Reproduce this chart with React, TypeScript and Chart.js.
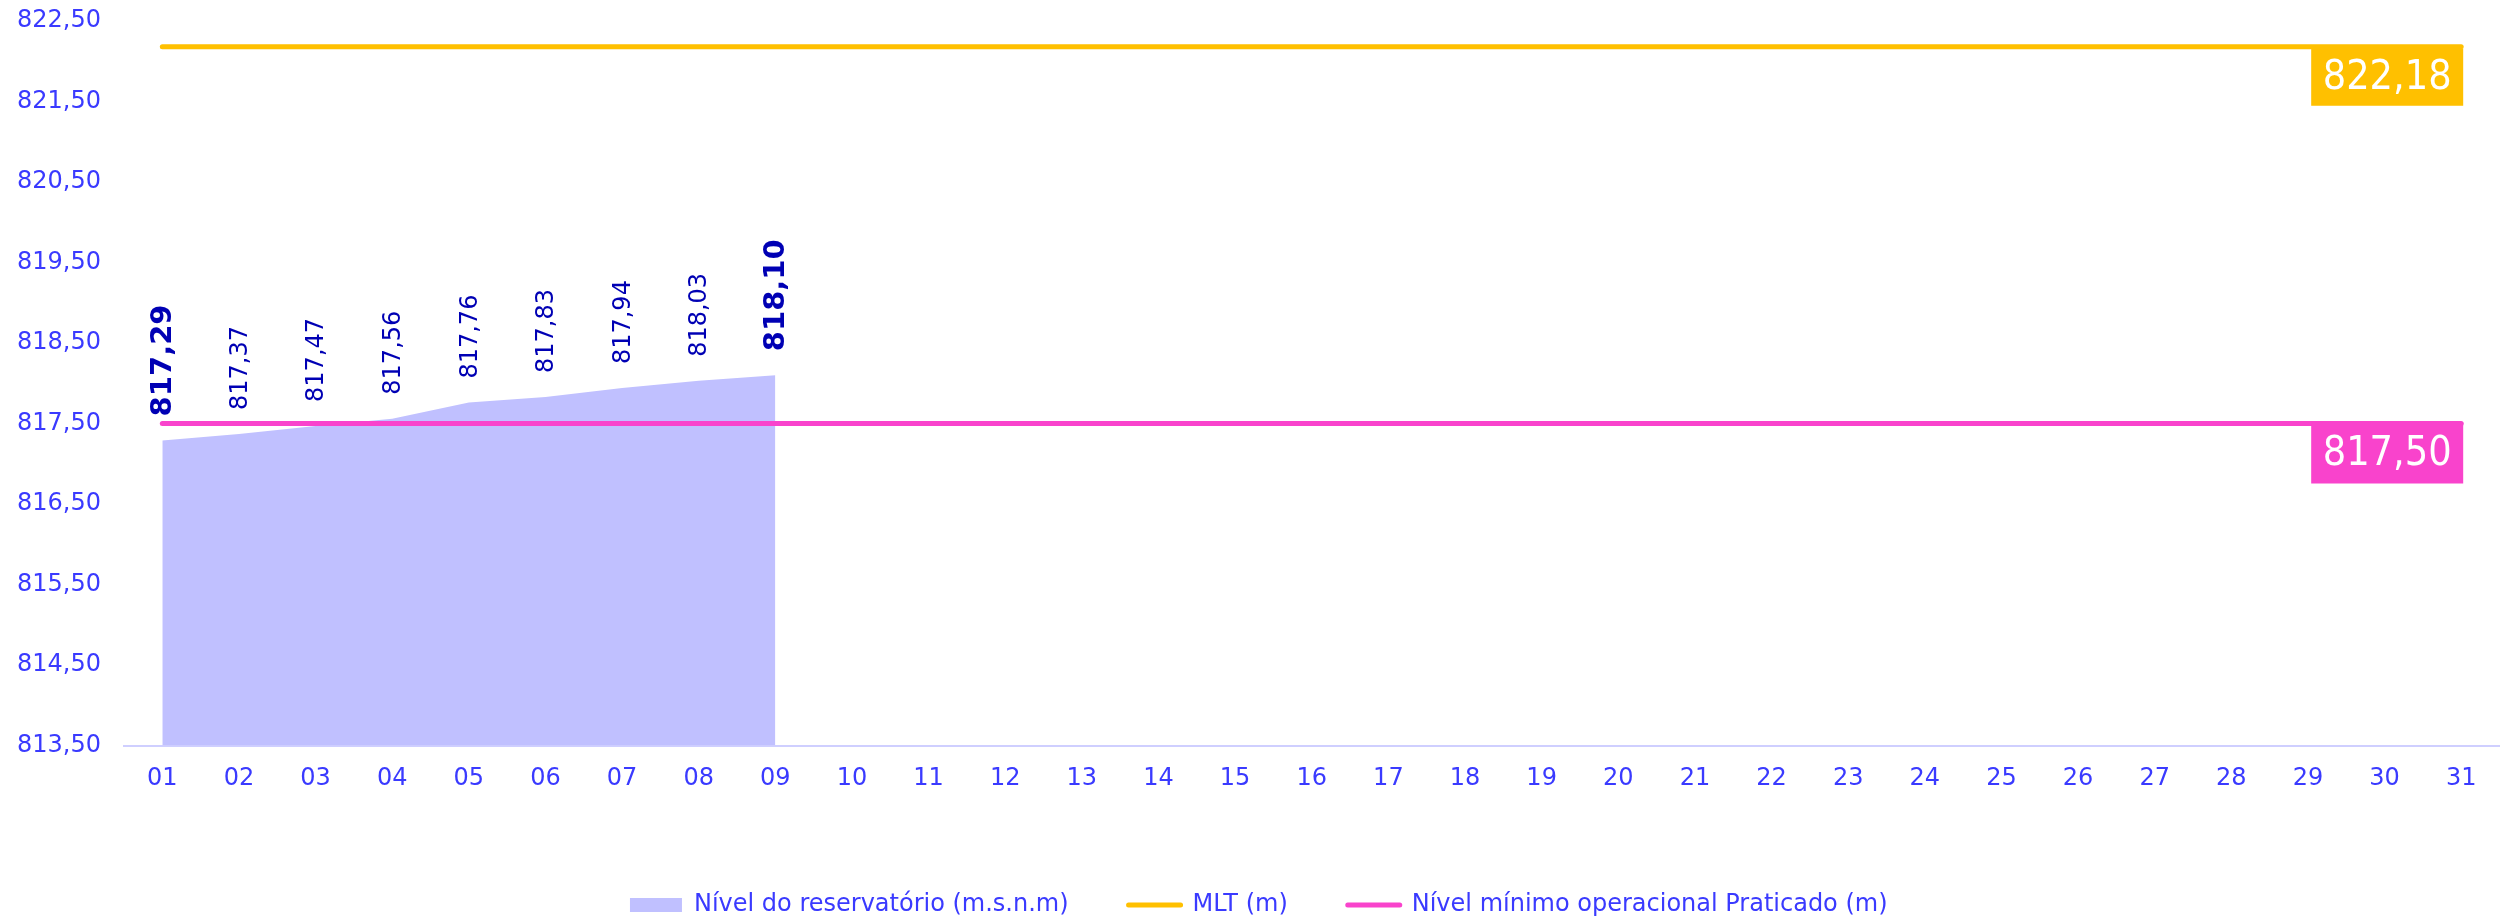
import React, { useEffect, useRef } from 'react';
import { Chart, registerables } from 'chart.js';

Chart.register(...registerables);

const days = ['01', '02', '03', '04', '05', '06', '07', '08', '09', '10', '11', '12', '13', '14', '15', '16',
  '17', '18', '19', '20', '21', '22', '23', '24', '25', '26', '27', '28', '29', '30', '31'];

const reservoirLevel = [817.29, 817.37, 817.47, 817.56, 817.76, 817.83, 817.94, 818.03, 818.10];

const mltLevel = [822.18, 822.18, 822.18, 822.18, 822.18, 822.18, 822.18, 822.18, 822.18, 822.18, 822.18,
  822.18, 822.18, 822.18, 822.18, 822.18, 822.18, 822.18, 822.18, 822.18, 822.18, 822.18, 822.18, 822.18,
  822.18, 822.18, 822.18, 822.18, 822.18, 822.18, 822.18];

const minOperationalLevel = [817.50, 817.50, 817.50, 817.50, 817.50, 817.50, 817.50, 817.50, 817.50, 817.50,
  817.50, 817.50, 817.50, 817.50, 817.50, 817.50, 817.50, 817.50, 817.50, 817.50, 817.50, 817.50, 817.50,
  817.50, 817.50, 817.50, 817.50, 817.50, 817.50, 817.50, 817.50];

const yTickValues = [813.5, 814.5, 815.5, 816.5, 817.5, 818.5, 819.5, 820.5, 821.5, 822.5];

const seriesLabels = ['Nível do reservatório (m.s.n.m)', 'MLT (m)', 'Nível mínimo operacional Praticado (m)'];

const AREA_COLOR = '#C0C0FF';
const MLT_COLOR = '#FFC000';
const MIN_COLOR = '#F943CC';
const TICK_COLOR = '#3A3AFF';
const LABEL_COLOR = '#0000B4';
const AXIS_COLOR = '#CFCFFF';
const FONT = "'DejaVu Sans', Verdana, sans-serif";

const fmt = (v: number) => v.toFixed(2).replace('.', ',');

const valueLabelsPlugin = {
  id: 'valueLabels',
  afterDatasetsDraw(chart: any) {
    const ctx = chart.ctx;
    const meta = chart.getDatasetMeta(0);
    const n = reservoirLevel.length;
    meta.data.forEach((pt: any, i: number) => {
      const v = reservoirLevel[i];
      if (v == null) return;
      const bold = i === 0 || i === n - 1;
      ctx.save();
      ctx.translate(pt.x + 1.5, pt.y - 24);
      ctx.rotate(-Math.PI / 2);
      ctx.font = bold ? `bold 29px ${FONT}` : `24px ${FONT}`;
      ctx.fillStyle = LABEL_COLOR;
      ctx.textAlign = 'left';
      ctx.textBaseline = 'middle';
      ctx.fillText(fmt(v), 0, 0);
      ctx.restore();
    });
  },
};

const endBoxesPlugin = {
  id: 'endBoxes',
  afterDatasetsDraw(chart: any) {
    const ctx = chart.ctx;
    const cfg = [
      { index: 1, dy: 2, h: 57 },
      { index: 2, dy: -1, h: 61 },
    ];
    cfg.forEach(({ index, dy, h }) => {
      const meta = chart.getDatasetMeta(index);
      const ds = chart.data.datasets[index];
      const last = meta.data[meta.data.length - 1];
      const value = ds.data[ds.data.length - 1];
      const w = 152;
      const x = last.x + 2 - w;
      const y = last.y + dy;
      ctx.save();
      ctx.fillStyle = ds.borderColor;
      ctx.fillRect(x, y, w, h);
      ctx.fillStyle = '#FFFFFF';
      (ctx as any).fontStretch = 'condensed';
      ctx.font = `41px 'DejaVu Sans Condensed', 'DejaVu Sans', sans-serif`;
      ctx.textAlign = 'center';
      ctx.textBaseline = 'middle';
      ctx.fillText(fmt(value), x + w / 2, y + h / 2 + 1);
      ctx.restore();
    });
  },
};

const legendShiftPlugin = {
  id: 'legendShift',
  afterLayout(chart: any) {
    const lg = chart.legend;
    if (lg) {
      lg.left += 9;
      lg.right += 9;
      lg.top += 3;
      lg.bottom += 3;
    }
  },
};

export default function App() {
  const canvasRef = useRef<HTMLCanvasElement | null>(null);

  useEffect(() => {
    document.body.style.margin = '0';
    document.documentElement.style.overflow = 'hidden';
    const canvas = canvasRef.current;
    if (!canvas) return;

    const chart = new Chart(canvas, {
      type: 'line',
      data: {
        labels: days,
        datasets: [
          {
            label: seriesLabels[0],
            data: reservoirLevel,
            backgroundColor: AREA_COLOR,
            borderColor: AREA_COLOR,
            borderWidth: 0,
            pointRadius: 0,
            fill: 'start',
            tension: 0,
            order: 3,
          },
          {
            label: seriesLabels[1],
            data: mltLevel,
            borderColor: MLT_COLOR,
            backgroundColor: MLT_COLOR,
            borderWidth: 5,
            borderCapStyle: 'round',
            pointRadius: 0,
            fill: false,
            order: 2,
          },
          {
            label: seriesLabels[2],
            data: minOperationalLevel,
            borderColor: MIN_COLOR,
            backgroundColor: MIN_COLOR,
            borderWidth: 5,
            borderCapStyle: 'round',
            pointRadius: 0,
            fill: false,
            order: 1,
          },
        ],
      } as any,
      options: {
        responsive: false,
        animation: false,
        devicePixelRatio: 1,
        font: { family: FONT, size: 24 },
        layout: { padding: { top: 21, right: 1.5, left: 0, bottom: -6 } },
        interaction: { mode: 'index', intersect: false },
        plugins: {
          tooltip: { enabled: false },
          title: { display: false },
          legend: {
            display: true,
            position: 'bottom',
            labels: {
              usePointStyle: true,
              pointStyleWidth: 52,
              boxHeight: 14,
              padding: 60,
              color: TICK_COLOR,
              font: { family: FONT, size: 24 },
              generateLabels: (ch: any) =>
                ch.data.datasets.map((ds: any, i: number) => ({
                  text: ds.label,
                  fillStyle: i === 0 ? AREA_COLOR : ds.borderColor,
                  strokeStyle: i === 0 ? AREA_COLOR : ds.borderColor,
                  lineWidth: i === 0 ? 0 : 5,
                  lineCap: 'round',
                  pointStyle: i === 0 ? 'rect' : 'line',
                  hidden: false,
                  datasetIndex: i,
                  fontColor: TICK_COLOR,
                })),
            },
          },
        },
        scales: {
          x: {
            type: 'category',
            offset: true,
            grid: { display: false, drawTicks: false },
            border: { display: true, color: AXIS_COLOR, width: 2 },
            ticks: {
              color: TICK_COLOR,
              font: { family: FONT, size: 24 },
              padding: 19,
              autoSkip: false,
              maxRotation: 0,
              minRotation: 0,
            },
            afterFit: (scale: any) => {
              scale.height = 84.5;
            },
          },
          y: {
            type: 'linear',
            min: 813.5,
            max: 822.5,
            grid: { display: false, drawTicks: false },
            border: { display: false },
            ticks: {
              color: TICK_COLOR,
              font: { family: FONT, size: 24 },
              padding: 23,
              callback: (v: any) => fmt(Number(v)),
            },
            afterBuildTicks: (scale: any) => {
              scale.ticks = yTickValues.map((v) => ({ value: v }));
            },
            afterFit: (scale: any) => {
              scale.width = 124;
              scale.paddingTop = 0;
              scale.paddingBottom = 0;
            },
          },
        },
      } as any,
      plugins: [valueLabelsPlugin, endBoxesPlugin, legendShiftPlugin],
    });

    return () => {
      chart.destroy();
    };
  }, []);

  return (
    <div style={{ width: 2501, height: 918, position: 'relative', background: '#FFFFFF' }}>
      <canvas ref={canvasRef} width={2501} height={918} style={{ display: 'block', width: 2501, height: 918 }} />
    </div>
  );
}
